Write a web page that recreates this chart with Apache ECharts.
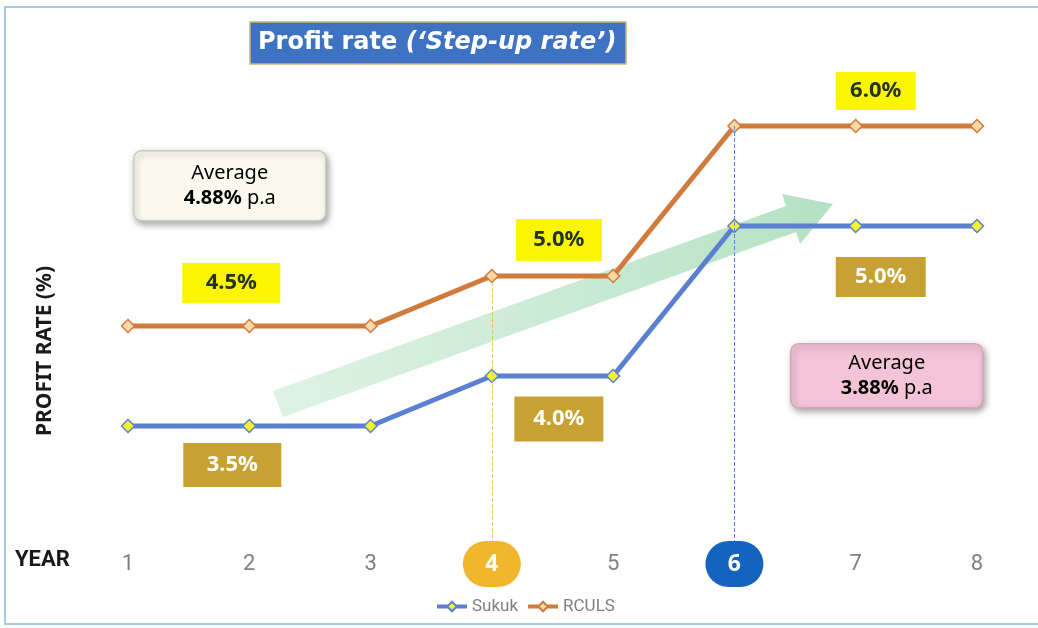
<!DOCTYPE html>
<html>
<head>
<meta charset="utf-8">
<script src="https://cdn.jsdelivr.net/npm/echarts@6/dist/echarts.min.js"></script>
<style>
  html, body { margin: 0; padding: 0; background: #fff; }
  #chart { width: 1038px; height: 628px; }
</style>
</head>
<body>
<div id="chart"></div>
<script>
// data
const years = ["1", "2", "3", "4", "5", "6", "7", "8"];
const sukuk = [3.5, 3.5, 3.5, 4.0, 4.0, 5.5, 5.5, 5.5];
const rculs = [4.5, 4.5, 4.5, 5.0, 5.0, 6.5, 6.5, 6.5];
const rculsTags = ["4.5%", "5.0%", "6.0%"];
const sukukTags = ["3.5%", "4.0%", "5.0%"];
const rculsAvg = "4.88%";
const sukukAvg = "3.88%";

const chart = echarts.init(document.getElementById("chart"));

const FONT = "'Noto Sans', 'Open Sans', sans-serif";
const NARROW = "'Liberation Sans Narrow', 'Roboto', sans-serif";
const YELLOW = "#fbf500";
const GOLD = "#c7a232";

function tag(text, year, value, offset, size, fill, color) {
  return {
    name: text,
    coord: [year, value],
    symbol: "rect",
    symbolSize: size,
    symbolOffset: offset,
    itemStyle: { color: fill },
    label: {
      show: true,
      position: "inside",
      formatter: text,
      color: color,
      fontSize: 22,
      fontWeight: "bold",
      fontFamily: FONT,
    },
  };
}

function avgBox(x, y, w, h, fill, stroke, pct) {
  return {
    type: "group",
    left: x,
    top: y,
    children: [
      {
        type: "rect",
        shape: { x: 0, y: 0, width: w, height: h, r: 8 },
        style: {
          fill: fill,
          stroke: stroke,
          lineWidth: 1.5,
          shadowBlur: 6,
          shadowOffsetX: 2,
          shadowOffsetY: 3,
          shadowColor: "rgba(0,0,0,0.35)",
        },
      },
      {
        type: "text",
        x: w / 2,
        y: h / 2,
        style: {
          text: "{a|Average}\n{b|" + pct + "}{c| p.a}",
          align: "center",
          verticalAlign: "middle",
          rich: {
            a: { fontSize: 20, color: "#333", fontFamily: FONT, lineHeight: 25 },
            b: { fontSize: 20, color: "#1f3333", fontWeight: "bold", fontFamily: FONT, lineHeight: 25 },
            c: { fontSize: 20, color: "#1f3333", fontFamily: FONT, lineHeight: 25 },
          },
        },
      },
    ],
  };
}

const option = {
  backgroundColor: "#fff",
  animation: false,
  title: {
    text: "{a|Profit rate }{b|(‘Step-up rate’)}",
    left: 250,
    top: 22,
    padding: [9, 10, 9, 8],
    backgroundColor: "#3e72c2",
    borderColor: "#c8bb6a",
    borderWidth: 1.5,
    textStyle: {
      rich: {
        a: { color: "#fff", fontSize: 24, fontWeight: "bold", fontFamily: "'DejaVu Sans', sans-serif" },
        b: { color: "#fff", fontSize: 24, fontWeight: "bold", fontStyle: "italic", fontFamily: "'DejaVu Sans', sans-serif" },
      },
    },
  },
  legend: {
    data: ["Sukuk", "RCULS"],
    left: 430,
    top: 593,
    itemWidth: 30,
    itemHeight: 12,
    itemGap: 8,
    lineStyle: { width: 4 },
    textStyle: { color: "#808080", fontSize: 17, fontFamily: NARROW },
  },
  grid: { left: 128, right: 61, top: 76, bottom: 87 },
  xAxis: {
    type: "category",
    data: years,
    boundaryGap: false,
    axisLine: { show: false },
    axisTick: { show: false },
    axisLabel: {
      margin: 0,
      formatter: (v) => (v === "4" ? "{g|4}" : v === "6" ? "{b|6}" : "{n|" + v + "}"),
      rich: {
        n: { color: "#808080", fontSize: 22, height: 46, width: 58, align: "center", fontFamily: NARROW },
        g: { color: "#fff", backgroundColor: "#f0b72e", fontSize: 23, fontWeight: "bold", height: 46, width: 58, borderRadius: 26, align: "center", fontFamily: FONT },
        b: { color: "#fff", backgroundColor: "#1463be", fontSize: 23, fontWeight: "bold", height: 46, width: 58, borderRadius: 26, align: "center", fontFamily: FONT },
      },
    },
  },
  yAxis: {
    type: "value",
    min: 2.35,
    max: 7,
    show: false,
  },
  graphic: [
    {
      type: "rect",
      z: -10,
      shape: { x: 5, y: 7, width: 1045, height: 617 },
      style: { fill: "none", stroke: "#a9c8e6", lineWidth: 2 },
    },
    {
      type: "polygon",
      z: 0,
      shape: {
        points: [
          [273, 391], [786, 206], [782, 194], [833, 204],
          [800, 244], [796, 232], [283, 417],
        ],
      },
      style: {
        fill: new echarts.graphic.LinearGradient(0, 0, 1, 0, [
          { offset: 0, color: "rgba(190,230,200,0.5)" },
          { offset: 1, color: "rgba(130,205,155,0.6)" },
        ]),
      },
    },
    {
      type: "text",
      left: 15,
      top: 549,
      style: { text: "YEAR", fill: "#1a1a1a", fontSize: 22, fontWeight: "bold", fontFamily: NARROW },
    },
    {
      type: "text",
      x: 45,
      y: 351,
      rotation: Math.PI / 2,
      style: {
        text: "PROFIT RATE (%)",
        align: "center",
        verticalAlign: "middle",
        fill: "#1a1a1a",
        fontSize: 21,
        fontWeight: "bold",
        fontFamily: FONT,
      },
    },
    avgBox(133, 150, 192, 70, "#fafaee", "#c9c9bf", rculsAvg),
    avgBox(790, 343, 192, 64, "#f3c4d6", "#d8a5b9", sukukAvg),
  ],
  series: [
    {
      name: "Sukuk",
      type: "line",
      data: sukuk,
      symbol: "diamond",
      symbolSize: 13,
      z: 3,
      lineStyle: { color: "#5b80d2", width: 5 },
      itemStyle: { color: "#f5f52a", borderColor: "#5b80d2", borderWidth: 1.5 },
      markPoint: {
        z: 5,
        data: [
          tag(sukukTags[0], "2", sukuk[1], [-17, 39], [98, 44], GOLD, "#fff"),
          tag(sukukTags[1], "4", sukuk[3], [67, 43], [89, 45], GOLD, "#fff"),
          tag(sukukTags[2], "7", sukuk[6], [25, 51], [90, 40], GOLD, "#fff"),
        ],
      },
      markLine: {
        silent: true,
        symbol: "none",
        label: { show: false },
        data: [
          [
            { coord: ["6", rculs[5]], lineStyle: { color: "#4f86d0", type: "dashed", width: 1 } },
            { coord: ["6", 2.35] },
          ],
        ],
      },
    },
    {
      name: "RCULS",
      type: "line",
      data: rculs,
      symbol: "diamond",
      symbolSize: 13,
      z: 3,
      lineStyle: { color: "#d07a3c", width: 5 },
      itemStyle: { color: "#fcd9a6", borderColor: "#d07a3c", borderWidth: 1.5 },
      markPoint: {
        z: 5,
        data: [
          tag(rculsTags[0], "2", rculs[1], [-18, -43], [98, 40], YELLOW, "#23332a"),
          tag(rculsTags[1], "4", rculs[3], [67, -36], [86, 42], YELLOW, "#23332a"),
          tag(rculsTags[2], "7", rculs[6], [20, -35], [80, 38], YELLOW, "#23332a"),
        ],
      },
      markLine: {
        silent: true,
        symbol: "none",
        label: { show: false },
        data: [
          [
            { coord: ["4", rculs[3]], lineStyle: { color: "#e8c25a", type: "dashed", width: 1 } },
            { coord: ["4", 2.35] },
          ],
        ],
      },
    },
  ],
};

chart.setOption(option);
</script>
</body>
</html>
